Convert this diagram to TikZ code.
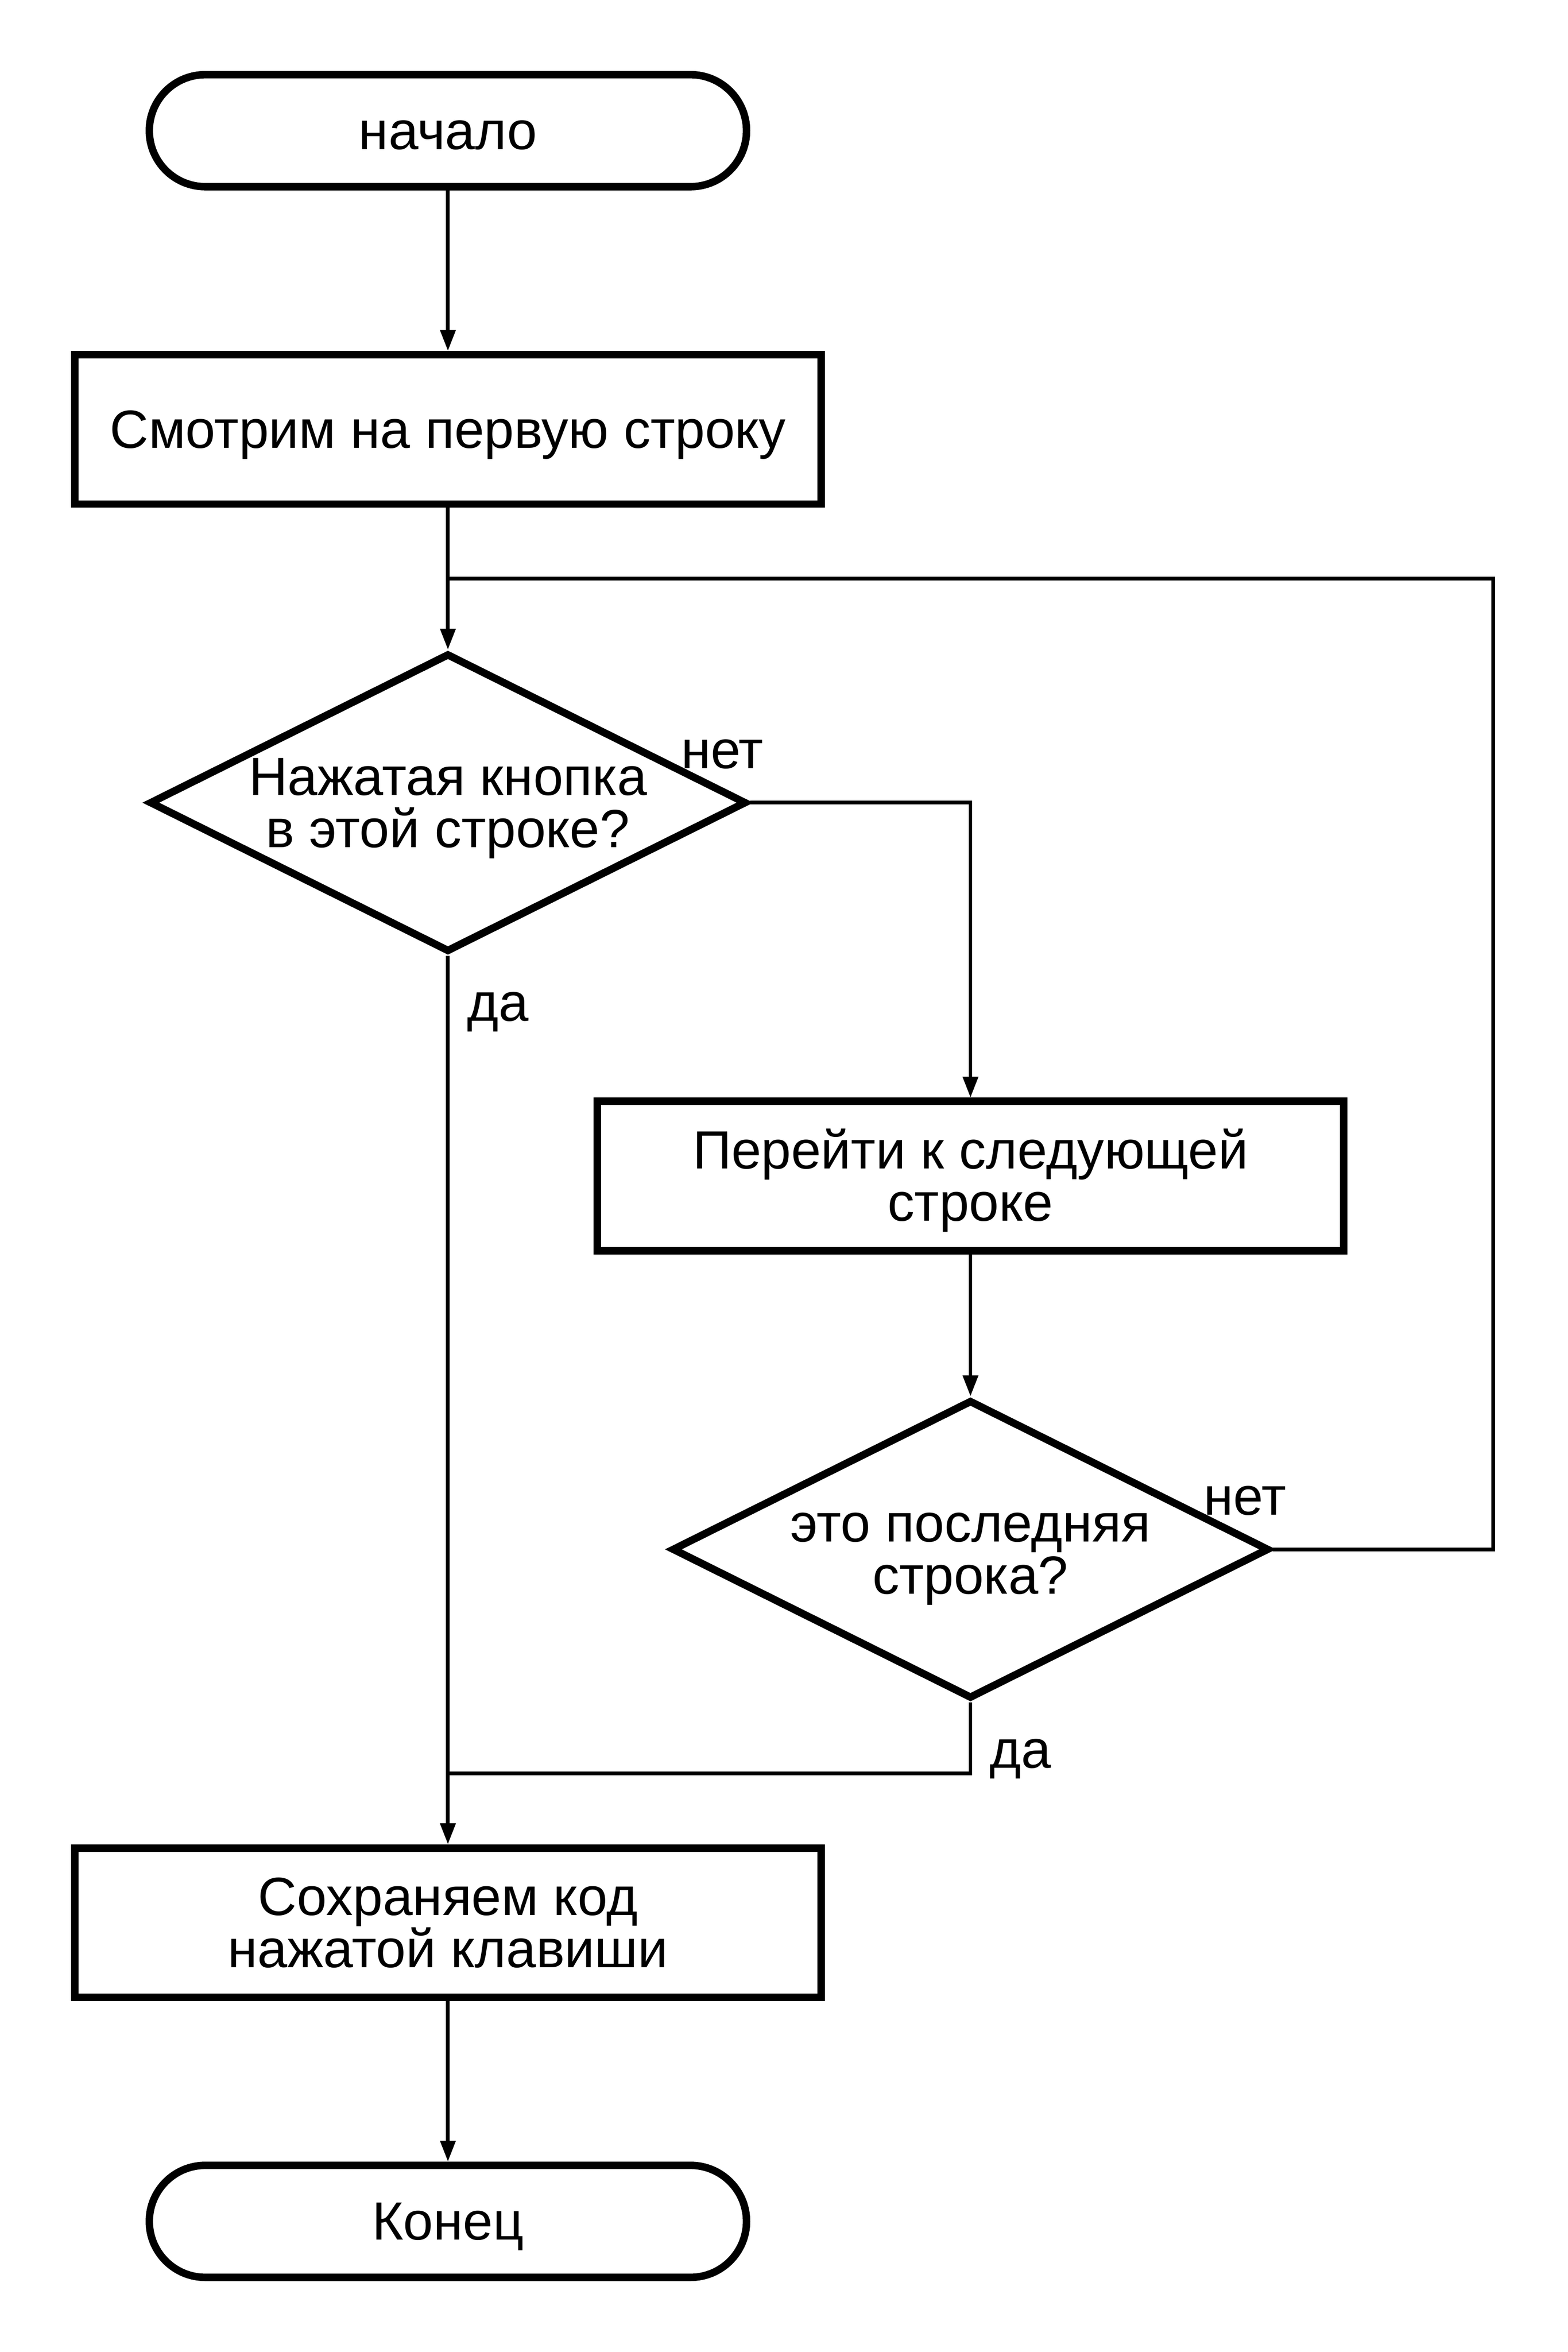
\documentclass[tikz,border=0pt]{standalone}
\usepackage{fontspec}
\setmainfont{Liberation Sans}
\usetikzlibrary{shapes.geometric,shapes.misc,arrows.meta}

\tikzset{
  term/.style={draw,rounded rectangle,line width=3.75pt,minimum width=300pt,minimum height=56.25pt,inner sep=0pt},
  proc/.style={draw,rectangle,line width=3.75pt,minimum width=375pt,minimum height=75pt,inner sep=0pt},
  decision/.style={draw,diamond,line width=3.75pt,minimum width=300pt,minimum height=150pt,inner sep=0pt},
  txt/.style={align=center,inner sep=0pt,anchor=base},
  wire/.style={line width=1.875pt},
  link/.style={wire,-{Triangle[length=10.5pt,width=7.5pt]}},
  lab/.style={inner sep=0pt},
}

\begin{document}
\begin{tikzpicture}[x=0.75pt,y=0.75pt,yscale=-1,font=\fontsize{27}{26.25}\selectfont]
\useasboundingbox (0,0) rectangle (1050,1575);
\node[term] (1) at (300,87.5) {};
\node[proc] (2) at (300,287.5) {};
\node[decision] (3) at (300,537.5) {};
\node[proc] (4) at (650,787.5) {};
\node[decision] (5) at (650,1037.5) {};
\node[proc] (6) at (300,1287.5) {};
\node[term] (7) at (300,1487.5) {};
% texts (base = last line)
\node[txt] (1t) at (300,100) {начало};
\node[txt] (2t) at (300,300) {Смотрим на первую строку};
\node[txt] (3t) at (300,567.5) {Нажатая кнопка\\в этой строке?};
\node[txt] (4t) at (650,817.5) {Перейти к следующей\\строке};
\node[txt] (5t) at (650,1067.5) {это последняя\\строка?};
\node[txt] (6t) at (300,1317.5) {Сохраняем код\\нажатой клавиши};
\node[txt] (7t) at (300,1500) {Конец};
\coordinate (j1) at (300,387.5);
\coordinate (k1) at (1000,387.5);
\coordinate (j2) at (300,1187.5);
% connectors
\draw[link] (1) -- (2);
\draw[link] (2) -- (3);
\draw[link] (3.east) -| (4.north);
\draw[link] (4) -- (5);
\draw[wire] (5.east) -| (k1) -- (j1);
\draw[wire] (5.south) |- (j2);
\draw[link] (3.south) -- (6.north);
\draw[link] (6) -- (7);
% labels
\node[lab,anchor=base east] (n1) at (511.6,514.6) {нет};
\node[lab,anchor=base west] (y1) at (312.8,683.8) {да};
\node[lab,anchor=base east] (n2) at (861.6,1014.6) {нет};
\node[lab,anchor=base west] (y2) at (662.8,1183.8) {да};
\end{tikzpicture}
\end{document}
